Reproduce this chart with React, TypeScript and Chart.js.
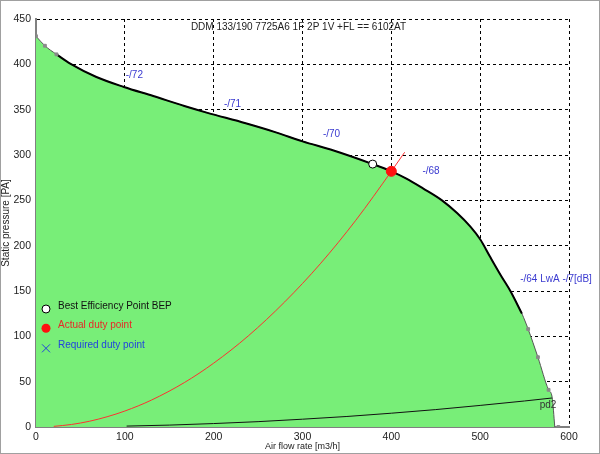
import React, { useEffect, useRef } from "react";
import { Chart, registerables } from "chart.js";

Chart.register(...registerables);

const FONT = "'Liberation Sans', Arial, sans-serif";

// Fan curve (air flow m3/h, static pressure Pa)
const fanFlow = [0, 10, 23, 39, 68, 99, 132, 167, 193, 236, 270, 300, 335, 379, 400, 417, 436, 457, 474, 489, 500, 511, 524, 534, 547, 554, 565, 577, 581, 584];
const fanPressure = [431, 420.5, 411, 400.5, 386, 375, 365, 354, 346.5, 335, 325, 315, 305, 290, 282, 274, 263, 250, 236, 221, 207, 188, 166, 150, 125, 108, 77, 41, 33, 0];

// Gray measuring markers on the curve
const markerFlow = [0, 10, 23, 554, 565, 577, 588];
const markerPressure = [431, 420.5, 411, 108, 77, 41, 0];

// System curve (red)
const sysFlow = [20, 40, 60, 80, 100, 130, 167, 200, 239, 280, 320, 360, 400, 415];
const sysPressure = [0.7, 2.8, 6.3, 11.3, 17.6, 29.7, 49, 70.4, 100.5, 138, 180, 228, 282, 303];

// Dynamic pressure pd2 (black thin)
const pdFlow = [102, 150, 200, 250, 300, 350, 400, 450, 500, 550, 581];
const pdPressure = [1, 2.1, 3.8, 5.9, 8.6, 11.6, 15.2, 19.2, 23.8, 28.7, 32];

// Duty points
const bepFlow = [379];
const bepPressure = [290];
const dutyFlow = [400];
const dutyPressure = [282];
const requiredFlow = [400];
const requiredPressure = [282];

// Sound level labels
const noiseLabels = ["-/72", "-/71", "-/70", "-/68", "-/64 LwA -/7[dB]"];
const noiseFlow = [101, 211.5, 323, 435, 545];
const noisePressure = [388, 356, 322.5, 282.5, 163];

const pdLabel = "pd2";
const pdLabelFlow = [567];
const pdLabelPressure = [24];

const titleText = "DDM 133/190 7725A6 1F 2P 1V +FL == 6102AT";
const xTitle = "Air flow rate [m3/h]";
const yTitle = "Static pressure [PA]";

const legendLabels = ["Best Efficiency Point BEP", "Actual duty point", "Required duty point"];

const zip = (xs: number[], ys: number[]) => xs.map((x, i) => ({ x, y: ys[i] }));

const textPlugin = {
  id: "texts",
  afterDraw(chart: any) {
    const { ctx, chartArea, scales } = chart;
    const sx = scales.x;
    const sy = scales.y;
    ctx.save();
    // title
    ctx.font = `10px ${FONT}`;
    ctx.fillStyle = "#222";
    ctx.textAlign = "center";
    ctx.textBaseline = "middle";
    ctx.fillText(titleText, (chartArea.left + chartArea.right) / 2 - 4, chartArea.top + 8);

    // noise labels
    ctx.textAlign = "left";
    ctx.fillStyle = "#3a3ad0";
    noiseLabels.forEach((t, i) => {
      ctx.fillText(t, sx.getPixelForValue(noiseFlow[i]), sy.getPixelForValue(noisePressure[i]));
    });

    // pd2
    ctx.fillStyle = "#333";
    ctx.fillText(pdLabel, sx.getPixelForValue(pdLabelFlow[0]), sy.getPixelForValue(pdLabelPressure[0]));

    // legend
    const mx = chartArea.left + 10;
    const tx = chartArea.left + 22;
    const b = chartArea.bottom;
    ctx.font = `10px ${FONT}`;
    // BEP
    ctx.beginPath();
    ctx.arc(mx, b - 118, 4, 0, Math.PI * 2);
    ctx.fillStyle = "#fff";
    ctx.fill();
    ctx.lineWidth = 1;
    ctx.strokeStyle = "#000";
    ctx.stroke();
    ctx.fillStyle = "#111";
    ctx.fillText(legendLabels[0], tx, b - 120.5);
    // actual
    ctx.beginPath();
    ctx.arc(mx, b - 98.7, 4.5, 0, Math.PI * 2);
    ctx.fillStyle = "#ff1010";
    ctx.fill();
    ctx.fillStyle = "#e82828";
    ctx.fillText(legendLabels[1], tx, b - 102);
    // required
    ctx.beginPath();
    ctx.moveTo(mx - 4, b - 82.7);
    ctx.lineTo(mx + 4, b - 74.7);
    ctx.moveTo(mx + 4, b - 82.7);
    ctx.lineTo(mx - 4, b - 74.7);
    ctx.strokeStyle = "#2244dd";
    ctx.lineWidth = 1;
    ctx.stroke();
    ctx.fillStyle = "#2244dd";
    ctx.fillText(legendLabels[2], tx, b - 82);

    // outer frame
    ctx.strokeStyle = "#a0a0a0";
    ctx.lineWidth = 1;
    ctx.strokeRect(0.5, 0.5, chart.width - 1, chart.height - 1);
    ctx.restore();
  },
};

export default function App() {
  const ref = useRef<HTMLCanvasElement | null>(null);

  useEffect(() => {
    if (!ref.current) return;
    const mainStart = 2;
    const mainEnd = fanFlow.indexOf(547) + 1;
    const chart = new Chart(ref.current, {
      type: "scatter",
      data: {
        datasets: [
          {
            label: "duty",
            data: zip(dutyFlow, dutyPressure),
            pointRadius: 5,
            pointBackgroundColor: "#ff1010",
            pointBorderColor: "#ff1010",
            order: 1,
          } as any,
          {
            label: "required",
            data: zip(requiredFlow, requiredPressure),
            pointStyle: "crossRot",
            pointRadius: 5,
            pointBorderColor: "#2244dd",
            pointBorderWidth: 1,
            order: 2,
          },
          {
            label: "bep",
            data: zip(bepFlow, bepPressure),
            pointRadius: 4,
            pointBackgroundColor: "#fff",
            pointBorderColor: "#000",
            pointBorderWidth: 1,
            order: 3,
          },
          {
            label: "system",
            data: zip(sysFlow, sysPressure),
            showLine: true,
            borderColor: "#ff3030",
            borderWidth: 1,
            pointRadius: 0,
            cubicInterpolationMode: "monotone",
            order: 4,
          },
          {
            label: "markers",
            data: zip(markerFlow, markerPressure),
            pointStyle: "rect",
            pointRadius: 2,
            pointBackgroundColor: "#8a8a8a",
            pointBorderColor: "#8a8a8a",
            order: 5,
          },
          {
            label: "fan",
            data: zip(fanFlow.slice(mainStart, mainEnd), fanPressure.slice(mainStart, mainEnd)),
            showLine: true,
            borderColor: "#000",
            borderWidth: 2,
            pointRadius: 0,
            cubicInterpolationMode: "monotone",
            order: 6,
          },
          {
            label: "fanEdge",
            data: zip(fanFlow, fanPressure),
            showLine: true,
            borderColor: "#555",
            borderWidth: 1,
            pointRadius: 0,
            cubicInterpolationMode: "monotone",
            order: 7,
          },
          {
            label: "pd2",
            data: zip(pdFlow, pdPressure),
            showLine: true,
            borderColor: "#111",
            borderWidth: 1,
            pointRadius: 0,
            cubicInterpolationMode: "monotone",
            order: 8,
          },
          {
            label: "area",
            data: zip(fanFlow, fanPressure),
            showLine: true,
            borderWidth: 0,
            borderColor: "rgba(0,0,0,0)",
            backgroundColor: "#78ee78",
            fill: "origin",
            pointRadius: 0,
            cubicInterpolationMode: "monotone",
            order: 9,
          },
        ],
      },
      options: {
        animation: false,
        responsive: false,
        layout: { padding: { left: 0, top: 19, right: 31, bottom: 0 } },
        plugins: {
          legend: { display: false },
          tooltip: { enabled: false },
          title: { display: false },
        },
        scales: {
          x: {
            type: "linear",
            min: 0,
            max: 600,
            z: 1,
            ticks: { stepSize: 100, padding: 4, color: "#222", font: { family: FONT, size: 10.5 } },
            grid: { color: "#000", lineWidth: 1, drawTicks: false },
            border: { display: true, color: "#808080", width: 2, dash: [3, 3] },
            title: {
              display: true,
              text: xTitle,
              color: "#222",
              font: { family: FONT, size: 9 },
              padding: { top: 0, bottom: 2 },
            },
            afterFit: (s: any) => {
              s.height = 27;
            },
          },
          y: {
            type: "linear",
            min: 0,
            max: 450,
            z: 1,
            ticks: { stepSize: 50, padding: 5, color: "#222", font: { family: FONT, size: 10.5 } },
            grid: { color: "#000", lineWidth: 1, drawTicks: false },
            border: { display: true, color: "#808080", width: 2, dash: [3, 3] },
            title: {
              display: true,
              text: yTitle,
              color: "#222",
              font: { family: FONT, size: 10 },
              padding: { top: 0, bottom: 0 },
            },
            afterFit: (s: any) => {
              s.width = 36;
            },
          },
        },
      } as any,
      plugins: [textPlugin],
    });
    return () => chart.destroy();
  }, []);

  return (
    <div style={{ position: "fixed", left: 0, top: 0, width: 600, height: 454, background: "#fff" }}>
      <canvas ref={ref} width={600} height={454} style={{ display: "block", width: 600, height: 454 }} />
    </div>
  );
}
